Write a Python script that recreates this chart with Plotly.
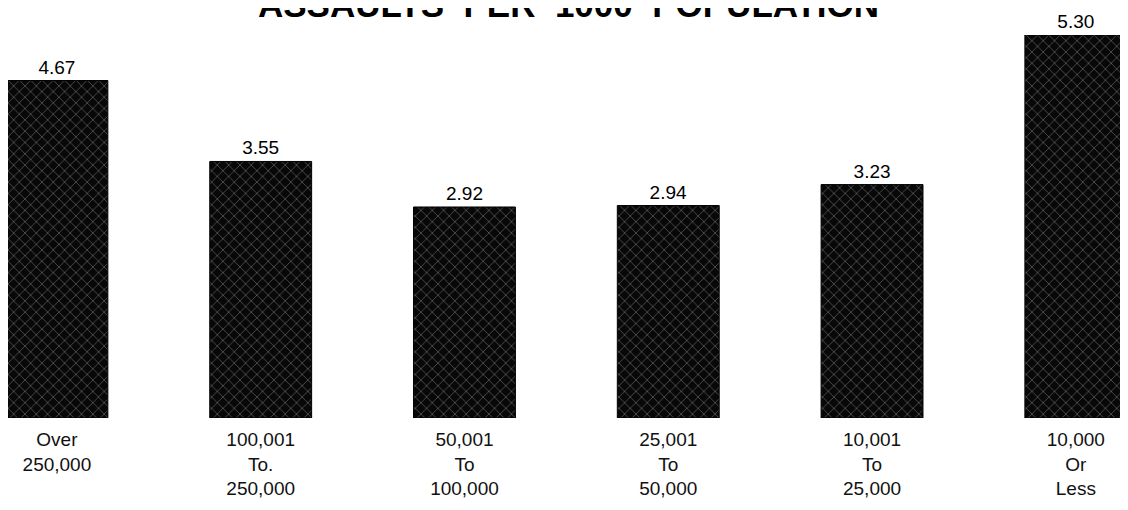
"""Bar chart of assaults per 1000 population by city size."""

import plotly.graph_objects as go

# data
size_groups = ["Over<br>250,000", "100,001<br>To.<br>250,000", "50,001<br>To<br>100,000",
               "25,001<br>To<br>50,000", "10,001<br>To<br>25,000", "10,000<br>Or<br>Less"]
assault_rates = [4.67, 3.55, 2.92, 2.94, 3.23, 5.30]
rate_labels = ["4.67", "3.55", "2.92", "2.94", "3.23", "5.30"]
positions = list(range(len(size_groups)))

# the page puts the figure 8px in from the top-left corner, so size it to the rest
fig = go.Figure(
    go.Bar(
        x=positions,
        y=assault_rates,
        width=0.5,
        text=rate_labels,
        textposition="outside",
        cliponaxis=False,
        textfont=dict(family="Liberation Sans, Arial", size=19, color="black"),
        marker=dict(
            color="#080808",
            line=dict(width=1, color="black"),
            pattern=dict(shape="x", fillmode="overlay", fgcolor="#b0b0b0",
                         fgopacity=0.6, size=8, solidity=0.15),
        ),
        hoverinfo="skip",
    )
)

# title sits partly above the page edge, as in the scan
fig.add_annotation(
    text="<b>ASSAULTS&nbsp; PER&nbsp; 1000&nbsp; POPULATION</b>",
    xref="paper", yref="paper", x=0.5, y=1.0235,
    xanchor="center", yanchor="bottom", showarrow=False,
    font=dict(family="Liberation Sans, Arial", size=35, color="black"),
)

fig.update_xaxes(
    range=[-0.24, 5.256],
    tickvals=positions,
    ticktext=size_groups,
    automargin=False,
    showline=False, showgrid=False, zeroline=False, ticks="",
    ticklabelstandoff=8,
    tickfont=dict(family="Liberation Sans, Arial", size=19, color="#111"),
)
fig.update_yaxes(range=[0, 5.3], visible=False, showgrid=False, zeroline=False,
                 automargin=False)

fig.update_layout(
    width=1120, height=502,
    template="plotly_white",
    plot_bgcolor="white", paper_bgcolor="white",
    margin=dict(l=0, r=0, t=27, b=92),
    showlegend=False,
)

fig.write_html("out.html")
